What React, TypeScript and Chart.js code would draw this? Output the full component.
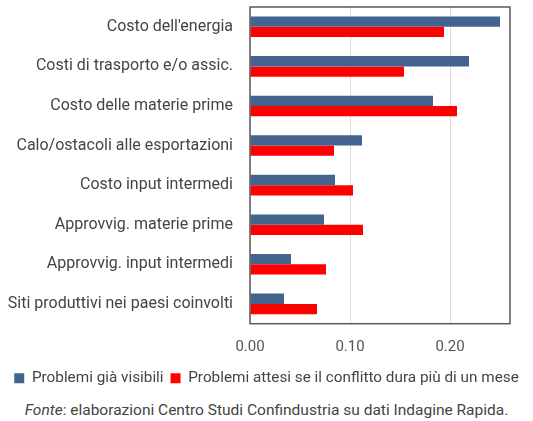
import React, { useEffect, useRef } from "react";
import { Chart, registerables } from "chart.js";

Chart.register(...registerables);

const categories = [
  "Costo dell'energia",
  "Costi di trasporto e/o assic.",
  "Costo delle materie prime",
  "Calo/ostacoli alle esportazioni",
  "Costo input intermedi",
  "Approvvig. materie prime",
  "Approvvig. input intermedi",
  "Siti produttivi nei paesi coinvolti",
];

const visibili = [0.25, 0.219, 0.183, 0.112, 0.085, 0.074, 0.041, 0.034];
const attesi = [0.194, 0.154, 0.207, 0.084, 0.103, 0.113, 0.076, 0.067];

const seriesNames = [
  "Problemi già visibili",
  "Problemi attesi se il conflitto dura più di un mese",
];

const tickValues = [0, 0.1, 0.2];
const tickLabels = ["0.00", "0.10", "0.20"];
const axisMax = 0.26;

const FONT = "Roboto, 'Noto Sans', sans-serif";

// Outline the plot area with a dark frame
const frame = {
  id: "frame",
  afterDraw(chart: any) {
    const { ctx, chartArea } = chart;
    ctx.save();
    ctx.strokeStyle = "#5a5a5a";
    ctx.lineWidth = 1.5;
    ctx.strokeRect(
      chartArea.left,
      chartArea.top,
      chartArea.right - chartArea.left,
      chartArea.bottom - chartArea.top
    );
    ctx.restore();
  },
};

export default function App() {
  const ref = useRef<HTMLCanvasElement | null>(null);

  useEffect(() => {
    if (!ref.current) return;
    const chart = new Chart(ref.current, {
      type: "bar",
      data: {
        labels: categories,
        datasets: [
          {
            label: seriesNames[0],
            data: visibili,
            backgroundColor: "#42648f",
            categoryPercentage: 0.52,
            barPercentage: 1,
          },
          {
            label: seriesNames[1],
            data: attesi,
            backgroundColor: "#ff0000",
            categoryPercentage: 0.52,
            barPercentage: 1,
          },
        ],
      },
      options: {
        indexAxis: "y",
        animation: false,
        responsive: false,
        layout: { padding: { top: 7, right: 0, left: 0, bottom: 0 } },
        scales: {
          x: {
            min: 0,
            max: axisMax,
            afterBuildTicks(scale: any) {
              scale.ticks = tickValues.map((v) => ({ value: v }));
            },
            afterFit(scale: any) {
              scale.height -= 8;
              // keep room on the right of the plot without narrowing the legend
              scale.paddingRight = 23;
            },
            ticks: {
              padding: 15,
              color: "#555",
              font: { family: FONT, size: 15 },
              callback: (_v: any, i: number) => tickLabels[i],
            },
            grid: { color: "#dcdcdc", drawTicks: false, lineWidth: 1 },
            border: { display: false },
          },
          y: {
            afterFit(scale: any) {
              scale.width = 250;
              scale.paddingTop = 0;
              scale.paddingBottom = 0;
            },
            ticks: {
              padding: 17,
              color: "#444",
              font: { family: FONT, size: 16 },
            },
            grid: { display: false, drawTicks: false },
            border: { display: false },
          },
        },
        plugins: {
          legend: {
            position: "bottom",
            labels: {
              boxWidth: 10,
              boxHeight: 10,
              padding: 7,
              color: "#444",
              font: { family: FONT, size: 15.3 },
            },
          },
          tooltip: { enabled: false },
        },
      },
      plugins: [frame],
    });
    return () => chart.destroy();
  }, []);

  return (
    <div
      style={{
        position: "absolute",
        left: 0,
        top: 0,
        width: 533,
        height: 421,
        background: "#fff",
        fontFamily: FONT,
      }}
    >
      <canvas ref={ref} width={533} height={396} style={{ display: "block" }} />
      <div
        style={{
          position: "absolute",
          top: 400,
          left: 0,
          width: 533,
          textAlign: "center",
          fontSize: 15.5,
          lineHeight: "20px",
          color: "#444",
          whiteSpace: "nowrap",
        }}
      >
        <i>Fonte</i>: elaborazioni Centro Studi Confindustria su dati Indagine Rapida.
      </div>
    </div>
  );
}
